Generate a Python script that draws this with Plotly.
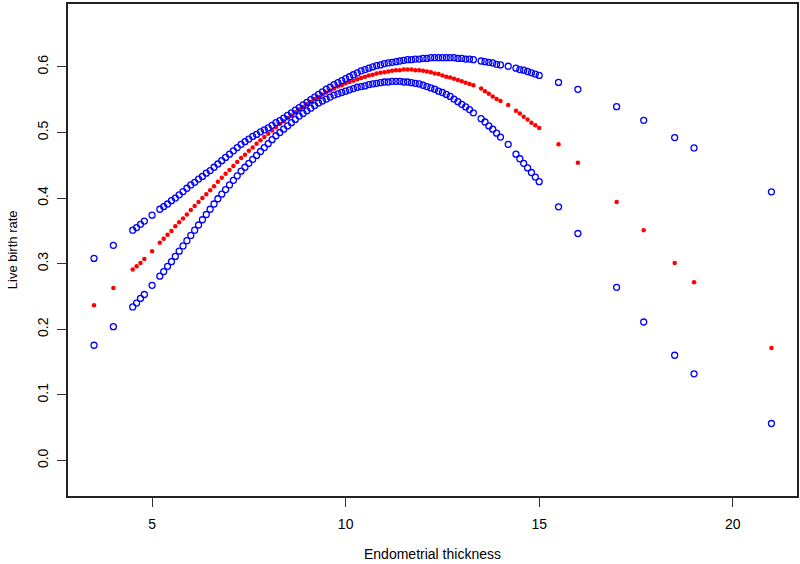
import plotly.graph_objects as go

# Endometrial thickness values (x)
thickness = [3.5, 4.0, 4.5, 4.6, 4.7, 4.8, 5.0,
             5.2, 5.3, 5.4, 5.5, 5.6, 5.7, 5.8, 5.9, 6.0,
             6.1, 6.2, 6.3, 6.4, 6.5, 6.6, 6.7, 6.8, 6.9, 7.0,
             7.1, 7.2, 7.3, 7.4, 7.5, 7.6, 7.7, 7.8, 7.9, 8.0,
             8.1, 8.2, 8.3, 8.4, 8.5, 8.6, 8.7, 8.8, 8.9, 9.0,
             9.1, 9.2, 9.3, 9.4, 9.5, 9.6, 9.7, 9.8, 9.9, 10.0,
             10.1, 10.2, 10.3, 10.4, 10.5, 10.6, 10.7, 10.8, 10.9, 11.0,
             11.1, 11.2, 11.3, 11.4, 11.5, 11.6, 11.7, 11.8, 11.9, 12.0,
             12.1, 12.2, 12.3, 12.4, 12.5, 12.6, 12.7, 12.8, 12.9, 13.0,
             13.1, 13.2, 13.3, 13.5, 13.6, 13.7, 13.8, 13.9, 14.0,
             14.2, 14.4, 14.5, 14.6, 14.7, 14.8, 14.9, 15.0,
             15.5, 16.0, 17.0, 17.7, 18.5, 19.0, 21.0]

# Predicted live birth rate (red)
predicted = [0.2365, 0.263, 0.291, 0.296, 0.301, 0.307, 0.319,
             0.332, 0.338, 0.344, 0.350, 0.357, 0.363, 0.369, 0.375, 0.382,
             0.388, 0.394, 0.400, 0.406, 0.412, 0.418, 0.425, 0.431, 0.437, 0.443,
             0.449, 0.455, 0.461, 0.466, 0.472, 0.477, 0.483, 0.488, 0.493, 0.498,
             0.503, 0.508, 0.513, 0.517, 0.522, 0.526, 0.531, 0.535, 0.539, 0.543,
             0.547, 0.551, 0.554, 0.558, 0.561, 0.564, 0.567, 0.570, 0.572, 0.575,
             0.577, 0.579, 0.581, 0.583, 0.585, 0.587, 0.588, 0.590, 0.591, 0.592,
             0.593, 0.594, 0.595, 0.595, 0.596, 0.596, 0.596, 0.595, 0.595, 0.594,
             0.593, 0.592, 0.590, 0.589, 0.587, 0.585, 0.584, 0.582, 0.580, 0.578,
             0.576, 0.574, 0.572, 0.567, 0.563, 0.559, 0.555, 0.551, 0.548,
             0.542, 0.533, 0.529, 0.524, 0.520, 0.515, 0.511, 0.507,
             0.482, 0.454, 0.394, 0.351, 0.301, 0.2715, 0.1715]

# Upper confidence limit (blue)
upper = [0.308, 0.328, 0.351, 0.355, 0.360, 0.365, 0.374,
         0.383, 0.387, 0.391, 0.396, 0.400, 0.405, 0.410, 0.415, 0.420,
         0.424, 0.429, 0.433, 0.438, 0.442, 0.447, 0.452, 0.457, 0.462, 0.467,
         0.472, 0.477, 0.482, 0.486, 0.490, 0.494, 0.497, 0.501, 0.504, 0.507,
         0.511, 0.515, 0.518, 0.522, 0.526, 0.530, 0.534, 0.538, 0.542, 0.546,
         0.550, 0.554, 0.558, 0.562, 0.566, 0.569, 0.573, 0.576, 0.579, 0.582,
         0.585, 0.588, 0.591, 0.594, 0.596, 0.598, 0.600, 0.602, 0.603, 0.605,
         0.606, 0.607, 0.608, 0.609, 0.610, 0.611, 0.611, 0.612, 0.612, 0.613,
         0.613, 0.614, 0.614, 0.614, 0.614, 0.614, 0.614, 0.614, 0.613, 0.613,
         0.612, 0.612, 0.611, 0.609, 0.608, 0.607, 0.606, 0.604, 0.603,
         0.601, 0.598, 0.596, 0.595, 0.593, 0.591, 0.589, 0.587,
         0.5764, 0.5658, 0.5394, 0.5186, 0.4922, 0.4764, 0.4095]

# Lower confidence limit (blue)
lower = [0.1756, 0.204, 0.234, 0.240, 0.247, 0.253, 0.267,
         0.281, 0.288, 0.296, 0.303, 0.311, 0.319, 0.327, 0.335, 0.343,
         0.351, 0.359, 0.367, 0.375, 0.383, 0.391, 0.399, 0.406, 0.413, 0.420,
         0.427, 0.434, 0.441, 0.447, 0.453, 0.459, 0.465, 0.471, 0.477, 0.483,
         0.489, 0.495, 0.500, 0.505, 0.510, 0.515, 0.520, 0.525, 0.529, 0.533,
         0.537, 0.541, 0.545, 0.548, 0.551, 0.554, 0.557, 0.559, 0.561, 0.563,
         0.565, 0.567, 0.569, 0.570, 0.571, 0.573, 0.574, 0.575, 0.576, 0.577,
         0.577, 0.578, 0.578, 0.578, 0.577, 0.577, 0.576, 0.575, 0.574, 0.572,
         0.570, 0.568, 0.566, 0.563, 0.561, 0.558, 0.555, 0.551, 0.547, 0.543,
         0.539, 0.535, 0.530, 0.521, 0.516, 0.510, 0.505, 0.499, 0.493,
         0.482, 0.467, 0.460, 0.453, 0.446, 0.439, 0.432, 0.425,
         0.3866, 0.346, 0.2639, 0.2111, 0.1604, 0.132, 0.0563]

x_ticks = [5, 10, 15, 20]
y_ticks = [0.0, 0.1, 0.2, 0.3, 0.4, 0.5, 0.6]
y_tick_labels = ["0.0", "0.1", "0.2", "0.3", "0.4", "0.5", "0.6"]
x_title = "Endometrial thickness"
y_title = "Live birth rate"

BLUE = "#0000FF"
RED = "#FF0000"

fig = go.Figure()
fig.add_trace(go.Scatter(x=thickness, y=predicted, mode="markers",
                         marker=dict(symbol="circle", size=4.5, color=RED,
                                     line=dict(width=0)),
                         showlegend=False))
fig.add_trace(go.Scatter(x=thickness, y=upper, mode="markers",
                         marker=dict(symbol="circle-open", size=6, color=BLUE,
                                     line=dict(width=1.3, color=BLUE)),
                         showlegend=False))
fig.add_trace(go.Scatter(x=thickness, y=lower, mode="markers",
                         marker=dict(symbol="circle-open", size=6, color=BLUE,
                                     line=dict(width=1.3, color=BLUE)),
                         showlegend=False))

axis_font = dict(family="Liberation Sans, Arial, sans-serif", size=13, color="#000000")

fig.update_layout(
    width=800, height=564,
    margin=dict(l=68, r=3, t=4, b=68),
    paper_bgcolor="white", plot_bgcolor="white",
    font=axis_font,
    xaxis=dict(range=[2.828, 21.66], tickvals=x_ticks, ticks="outside", ticklen=9,
               tickwidth=1.2, tickcolor="#333333", automargin=False,
               ticklabelstandoff=5,
               showline=True, linecolor="#222222", linewidth=1.5, mirror=True,
               showgrid=False, zeroline=False, tickfont=dict(size=14)),
    yaxis=dict(range=[-0.0542, 0.6959], tickvals=y_ticks, ticktext=y_tick_labels,
               ticks="outside", ticklen=9, tickwidth=1.2, tickcolor="#333333",
               tickangle=-90, automargin=False, ticklabelstandoff=4,
               showline=True, linecolor="#222222", linewidth=1.5, mirror=True,
               showgrid=False, zeroline=False, tickfont=dict(size=14)),
    annotations=[
        dict(text=x_title, xref="paper", yref="paper", x=0.5, y=-0.118,
             xanchor="center", yanchor="middle", showarrow=False,
             font=dict(size=14)),
        dict(text=y_title, xref="paper", yref="paper", x=-0.0765, y=0.5,
             xanchor="center", yanchor="middle", showarrow=False, textangle=-90,
             font=dict(size=13)),
    ],
)

fig.write_html("out.html", config={"displayModeBar": False},
               post_script="document.body.style.margin='0';document.body.style.overflow='hidden';")
